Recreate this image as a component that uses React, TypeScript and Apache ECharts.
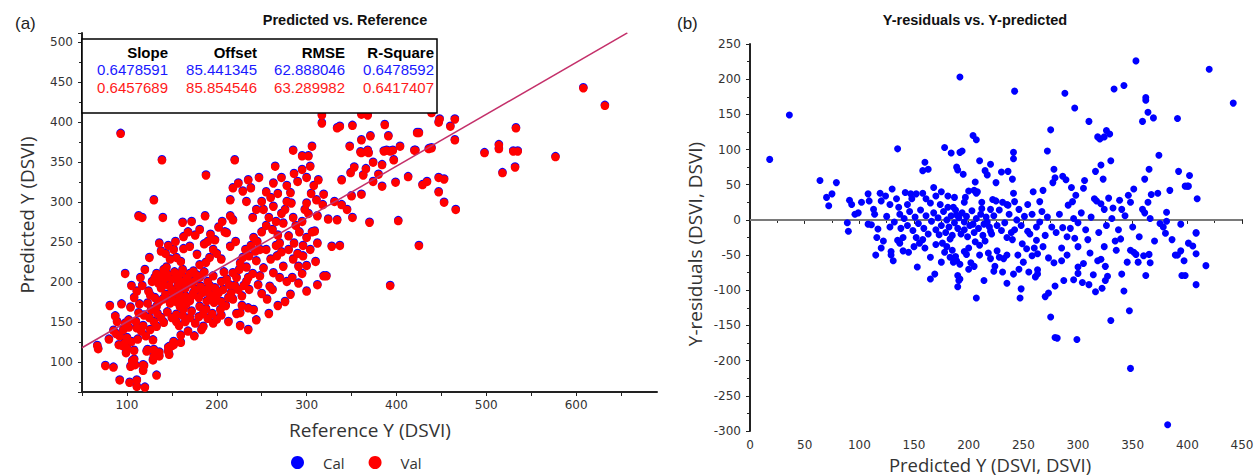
import React, { useEffect, useRef } from 'react';
import * as echarts from 'echarts';

// ---------- data ----------
const statHeaders = ['Slope', 'Offset', 'RMSE', 'R-Square'];
const calStats = ['0.6478591', '85.441345', '62.888046', '0.6478592'];
const valStats = ['0.6457689', '85.854546', '63.289982', '0.6417407'];
const fitSlope = 0.6478591;
const fitOffset = 85.441345;
const fitLineX = [50, 657];

// (a) Reference Y vs Predicted Y  [reference, predicted]
const valPoints: number[][] = [
  [93,385],[317,398],[317,408],[337,394],[351,395],[361,409],[368,408],[387,396],[391,382],[371,382],[361,377],[306,369],[348,369],[404,369],[423,386],[421,364],[285,364],[295,357],[302,357],[334,392],[360,362],[368,364],[389,364],[396,364],[139,352],[220,352],
  [439,411],[448,403],[447,399],[465,403],[460,394],[425,386],[465,377],[420,364],[436,366],[439,367],[498,361],[514,371],[514,366],[530,363],[535,363],[533,392],[577,356],[608,442],[632,420],
  [532,343],[518,336],[466,290],[453,299],[447,312],[453,328],[447,330],[434,325],[429,321],[413,331],[399,324],[384,319],[380,334],[384,346],[374,349],[397,352],[366,341],[363,333],[353,343],[349,336],[350,307],[361,309],[374,325],[402,276],[370,274],[351,280],[334,277],[324,278],[328,244],[337,245],[425,245],[393,195],[319,207],[322,207],[339,296],[345,290],[331,300],[318,296],[319,309],[339,327],[361,361],[369,361],[386,363],[393,363],
  [188,333],[130,302],[113,282],[117,280],[140,280],[162,274],[172,275],[187,282],[136,248],[154,250],[163,241],[163,256],[98,210],[105,195],[81,170],[94,172],[87,157],[124,188],[126,183],[137,207],[141,215],[144,218],[148,228],[150,203],[123,173],[133,169],[113,161],[119,158],[98,148],[102,143],[111,142],[92,132],[88,135],[105,125],[133,144],[141,149],[155,159],[163,166],[165,182],[174,186],[167,198],[190,200],[196,207],[181,169],[188,166],[197,174],[207,190],[205,200],[214,196],[218,211],[226,223],[233,218],[236,232],[244,226],[248,240],[215,244],[211,261],[221,250],[193,259],[181,265],[170,244],[178,234],[181,221],[174,213],[215,302],[218,317],[224,323],[235,327],[238,317],[229,313],[233,300],[215,282],[218,277],[241,255],[252,290],[263,294],[263,323],[265,344],[247,330],[282,311],[283,298],[304,344],[313,327],[300,298],[311,302],[309,263],[274,273],[280,257],[270,248],[280,240],[267,232],[274,219],[291,219],[296,232],[304,240],[278,200],[282,184],[291,198],[263,211],[259,194],[252,217],[248,207],[235,205],[233,200],[218,178],[226,161],[235,167],[241,165],[235,140],[204,165],[196,148],[185,144],[183,140],[168,138],[160,133],[152,125],[148,119],[129,127],[148,173],[152,186],[141,196],[161,200],[181,205],[187,190],[193,182],[159,169],[172,163],
  [67,120],[76,95],[85,93],[92,77],[103,74],[111,77],[120,68],[133,83],[118,96],[119,95],[108,103],[106,101],[99,111],[108,114],[123,115],[130,107],[136,112],[146,113],[146,118],[150,120],[160,124],[97,123],[100,117],[104,94],[109,96],[111,69],[118,89],[122,113],[130,115],[129,102],[136,107],[147,109],[152,121],[175,132],[68,116],[91,121],
  [128,200],[131,205],[133,210],[135,198],[138,192],[142,204],[145,209],[147,195],[150,190],[153,212],[155,205],[157,196],[158,188],[160,210],[162,215],[165,192],[167,205],[170,210],[172,197],[175,201],[176,190],[178,208],[180,180],[182,194],[184,186],[186,212],[189,176],[190,188],[192,195],[195,183],[198,192],[200,178],[202,186],[205,175],[150,178],[155,175],[158,183],[162,178],[166,172],[170,176],[173,183],[140,178],[143,184],[136,175],[131,180],[127,165],[134,160],[138,155],[145,162],[150,155],[155,150],[158,145],[162,158],[165,150],[170,155],[176,148],[180,156],[185,160],[190,154],[195,160],[200,153],[205,158],[210,170],[213,180],[216,186],[220,195],[224,190],[228,182],[230,195],[211,203],[208,212],[222,205],[225,215],[229,230],[232,240],[238,245],[243,238],[205,228],[200,235],[196,240],[192,230],[188,224],[186,247],[190,250],[198,252],[202,268],[206,275],[209,262],[176,258],[168,262],[160,225],[155,230],[152,240],[146,245],[143,235],[138,238],[125,230],[120,215],[115,205],[117,195],[111,188],[108,180],[104,168],[114,172],[110,150],[116,138],[121,132],[126,140],[130,150],[125,155],[118,145],[112,128],[100,130],[96,140],[89,150],[85,139],[80,128],[95,120],[102,152],
  [245,250],[250,262],[255,270],[258,280],[262,265],[266,275],[268,258],[272,285],[276,290],[278,300],[285,280],[288,270],[292,262],[295,275],[298,290],[302,285],[305,310],[308,320],[312,282],[300,330],[295,340],[290,325],[286,335],[278,320],[272,330],[268,310],[260,305],[255,312],[250,300],[244,290],[240,280],[255,240],[260,228],[266,245],[272,237],[286,248],[290,235],[296,245],[300,255],[306,262],[312,248],[250,185],[256,178],[262,190],[270,205],[284,205],[295,210],[300,220],[310,225],[285,228],[246,196],[240,210],[236,190],[228,170],[222,160],[213,150],[226,145],[244,152],[258,160],[268,170],[276,175],[300,188],[312,196]
];

// (b) Y-predicted vs Y-residuals  [predicted, residual]
const residualPoints: number[][] = [
  [18,86],[36,149],[64,56],[70,32],[72,20],[75,37],[79,53],[89,-4],[90,-16],[91,28],[93,22],[96,8],[99,10],[102,25],[108,37],[109,27],[113,15],[114,8],[108,-6],[111,-7],[117,-13],[119,38],[120,27],[135,101],[130,44],[134,30],[136,18],[137,8],[142,39],[147,37],[152,37],[158,38],[160,82],[158,70],[163,72],[168,46],[178,103],[184,95],[189,75],[192,96],[192,203],
  [242,183],[288,180],[297,159],[310,140],[333,186],[342,191],[353,226],[362,174],[362,170],[364,153],[369,145],[359,140],[391,144],[420,214],[442,166],[275,128],[272,98],[278,72],[318,118],[320,115],[324,118],[326,127],[329,122],[330,84],[321,78],[316,69],[323,58],[374,92],[365,72],[361,58],[392,69],[402,63],[400,48],[398,48],[409,30],[384,42],[381,11],[394,-6],[408,-19],[204,120],[207,114],[194,98],[241,96],[241,87],[220,79],[210,84],[190,71],[195,65],[215,70],[217,64],[230,68],[236,69],[240,58],[225,53],[206,54],[205,42],[207,38],[279,60],[286,62],[289,57],[294,46],[306,56],[305,45],[298,35],[295,26],[291,21],[277,53],[259,40],[268,42],[265,26],[254,22],[241,38],[242,26],[236,21],[235,22],[231,25],[225,27],[222,29],[220,15],[212,25],[212,16],[208,40],[200,41],[197,32],[196,25],[187,32],[181,34],[181,18],[186,18],[189,7],[315,30],[317,27],[321,23],[324,15],[328,31],[332,17],[338,28],[340,15],[346,35],[351,44],[348,25],[359,15],[361,10],[364,25],[367,36],[373,38],[366,2],[375,-5],[381,-2],[378,-10],[401,48],[300,-4],[296,2],[293,-12],[286,-11],[276,-10],[265,-3],[254,-16],[242,-14],[220,-16],[217,-3],[204,-6],[196,-3],
  [382,-291],[348,-211],[330,-143],[347,-129],[279,-167],[281,-168],[299,-170],[275,-138],[270,-109],[273,-104],[207,-111],[247,-111],[248,-98],[191,-86],[408,-92],[417,-65],[408,-48],[395,-79],[398,-79],[397,-58],[394,-44],[391,-50],[389,-50],[401,-33],[405,-37],[408,-18],[380,-19],[366,-61],[362,-79],[365,-49],[360,-51],[355,-60],[353,-49],[351,-46],[348,-43],[345,-60],[340,-77],[342,-101],[335,-43],[339,-27],[334,-30],[325,-66],[327,-80],[325,-86],[322,-97],[316,-102],[310,-92],[314,-78],[304,-89],[305,-62],[300,-67],[300,-76],[296,-85],[287,-86],[285,-58],[279,-94],[278,-61],[273,-54],[300,-38],[297,-26],[309,-28],[311,-47],[318,-58],[321,-56],[324,-38],[262,-29],[260,-40],[263,-48],[258,-51],[263,-71],[263,-77],[261,-81],[255,-74],[253,-41],[249,-34],[240,-28],[235,-25],[241,-77],[246,-70],[235,-50],[232,-55],[228,-53],[226,-44],[224,-66],[223,-73],[231,-74],[218,-47],[220,-55],[210,-36],[206,-31],[202,-61],[205,-66],[198,-49],[196,-45],[192,-63],[189,-58],[188,-52],[185,-43],[183,-27],
  [116,-25],[122,-30],[115,-50],[129,-45],[129,-50],[135,-29],[137,-33],[140,-25],[145,-46],[153,-67],[152,-25],[155,-33],[158,-28],[165,-53],[169,-77],[165,-84],[173,-21],[176,-33],[178,-46],[183,-53],[186,-60],[190,-79],[192,-84],
  [125,5],[128,-10],[132,-3],[138,-12],[141,2],[144,-8],[146,12],[149,-15],[151,4],[154,-5],[156,14],[159,-12],[161,6],[163,-20],[166,-2],[168,10],[170,-14],[172,3],[174,22],[175,-8],[177,12],[179,-18],[180,0],[182,-10],[184,6],[185,-22],[187,-4],[188,14],[190,-12],[191,3],[193,-20],[194,10],[196,-14],[198,5],[199,-24],[201,-8],[203,13],[205,-18],[207,2],[209,-12],[211,8],[213,-22],[214,-6],[216,4],[219,-10],[221,-20],[223,6],[226,-8],[228,14],[230,-15],[233,-4],[237,8],[239,-18],[244,0],[246,15],[248,-8],[251,5],[256,-20],[258,8],[262,-10],[267,12],[270,-22],[272,4],[280,-18],[283,8],[290,-24],[303,10],[307,-14],[312,4],[319,-18],[326,-8],[331,2],[337,-14],[343,6],[350,-10],[356,-24],[370,-30],[386,-28],[161,30],[165,24],[170,34],[175,40],[148,30],[144,22],[128,22],[124,34],[170,-35],[160,-40],[150,-38],[200,-40],[210,-50],[180,-38],[215,-30],[245,-50],[250,-60],[268,-38],[285,-40],[290,-50],[140,-44],[131,-58],[120,-40],[175,-60],[200,-70],[214,-86],[235,-90],[190,-95]
];

const tickFont = { fontFamily: 'DejaVu Sans', fontSize: 12, color: '#333' };
const axisLineStyle = { color: '#222', width: 2 };

export default function App() {
  const ref = useRef<HTMLDivElement>(null);
  useEffect(() => {
    document.body.style.margin = '0';
    if (!ref.current) return;
    const chart = echarts.init(ref.current, null, { renderer: 'svg' });
    const fitLine = fitLineX.map((x) => [x, fitSlope * x + fitOffset]);
    const colRight = [168, 257, 345, 434];
    const tableTexts: any[] = [];
    statHeaders.forEach((h, i) => {
      tableTexts.push({ type: 'text', z: 20, x: colRight[i], y: 52, style: { text: h, fontFamily: 'Liberation Sans', fontWeight: 'bold', fontSize: 15, fill: '#000', align: 'right', verticalAlign: 'middle' } });
      tableTexts.push({ type: 'text', z: 20, x: colRight[i], y: 69, style: { text: calStats[i], fontFamily: 'Liberation Sans', fontSize: 15, fill: '#1a1aff', align: 'right', verticalAlign: 'middle' } });
      tableTexts.push({ type: 'text', z: 20, x: colRight[i], y: 87, style: { text: valStats[i], fontFamily: 'Liberation Sans', fontSize: 15, fill: '#ff1a1a', align: 'right', verticalAlign: 'middle' } });
    });
    const nameFont = { fontFamily: 'Open Sans', fill: '#333' };
    chart.setOption({
      animation: false,
      grid: [
        { left: 82, top: 33, width: 575, height: 359 },
        { left: 750, top: 44, width: 492, height: 387 },
      ],
      xAxis: [
        {
          gridIndex: 0, type: 'value', min: 50, max: 690, interval: 50,
          axisLine: { lineStyle: axisLineStyle }, axisTick: { length: 4, lineStyle: { color: '#222' } },
          axisLabel: { ...tickFont, margin: 7, showMaxLabel: false, formatter: (v: number) => (v % 100 === 0 ? String(v) : '') },
          splitLine: { show: false },
        },
        {
          gridIndex: 1, type: 'value', min: 0, max: 450, interval: 50,
          axisLine: { lineStyle: axisLineStyle }, axisTick: { length: 4, lineStyle: { color: '#222' } },
          minorTick: { show: true, splitNumber: 2, length: 3, lineStyle: { color: '#222' } },
          axisLabel: { ...tickFont, margin: 8 },
          splitLine: { show: false },
        },
      ],
      yAxis: [
        {
          gridIndex: 0, type: 'value', min: 62.5, max: 511, splitNumber: 9,
          axisLine: { show: true, lineStyle: axisLineStyle }, axisTick: { show: true, length: 4, lineStyle: { color: '#222' } },
          minorTick: { show: true, splitNumber: 2, length: 3, lineStyle: { color: '#222' } },
          axisLabel: { ...tickFont, margin: 9, formatter: (v: number) => (Math.abs(v % 50) < 1e-6 ? String(v) : '') },
          splitLine: { show: false },
        },
        {
          gridIndex: 1, type: 'value', min: -300, max: 250, interval: 50,
          axisLine: { show: true, lineStyle: axisLineStyle }, axisTick: { show: true, length: 4, lineStyle: { color: '#222' } },
          minorTick: { show: true, splitNumber: 2, length: 3, lineStyle: { color: '#222' } },
          axisLabel: { ...tickFont, margin: 9 },
          splitLine: { show: false },
        },
      ],
      legend: {
        data: ['Cal', 'Val'], left: 286, top: 450, icon: 'circle', itemWidth: 13, itemHeight: 13, itemGap: 24,
        textStyle: { fontFamily: 'Open Sans', fontSize: 15, color: '#333', padding: [0, 0, 0, 14] },
      },
      series: [
        { name: 'Cal', type: 'scatter', xAxisIndex: 0, yAxisIndex: 0, data: valPoints, symbolSize: 8.5, symbolOffset: [0, -1], itemStyle: { color: '#0000ff', opacity: 1 }, z: 2 },
        { name: 'Val', type: 'scatter', xAxisIndex: 0, yAxisIndex: 0, data: valPoints, symbolSize: 8.5, itemStyle: { color: '#ff0000', opacity: 1 }, z: 3 },
        { name: 'fit', type: 'line', xAxisIndex: 0, yAxisIndex: 0, data: fitLine, symbol: 'none', lineStyle: { color: '#c4306a', width: 1.6 }, z: 4 },
        { name: 'res', type: 'scatter', xAxisIndex: 1, yAxisIndex: 1, data: residualPoints, symbolSize: 7, itemStyle: { color: '#0000ff', opacity: 1 }, z: 3 },
        { name: 'zero', type: 'line', xAxisIndex: 1, yAxisIndex: 1, data: [[0, 0], [450, 0]], symbol: 'none', lineStyle: { color: '#999', width: 1.5 }, z: 2 },
      ],
      graphic: [
        { type: 'text', x: 15, y: 23, style: { text: '(a)', fontFamily: 'Liberation Sans', fontSize: 17, fill: '#222', align: 'left', verticalAlign: 'middle' } },
        { type: 'text', x: 677, y: 23, style: { text: '(b)', fontFamily: 'Liberation Sans', fontSize: 17, fill: '#222', align: 'left', verticalAlign: 'middle' } },
        { type: 'text', x: 345, y: 20, style: { text: 'Predicted vs. Reference', fontFamily: 'Liberation Sans', fontWeight: 'bold', fontSize: 14.5, fill: '#111', align: 'center', verticalAlign: 'middle' } },
        { type: 'text', x: 975, y: 20, style: { text: 'Y-residuals vs. Y-predicted', fontFamily: 'Liberation Sans', fontWeight: 'bold', fontSize: 14.5, fill: '#111', align: 'center', verticalAlign: 'middle' } },
        { type: 'text', x: 27, y: 215, rotation: Math.PI / 2, style: { ...nameFont, text: 'Predicted Y (DSVI)', fontSize: 19, align: 'center', verticalAlign: 'middle' } },
        { type: 'text', x: 370, y: 430, style: { ...nameFont, text: 'Reference Y (DSVI)', fontSize: 19, align: 'center', verticalAlign: 'middle' } },
        { type: 'text', x: 695, y: 244, rotation: Math.PI / 2, style: { ...nameFont, text: 'Y-residuals (DSVI, DSVI)', fontSize: 19, align: 'center', verticalAlign: 'middle' } },
        { type: 'text', x: 990, y: 464, style: { ...nameFont, text: 'Predicted Y (DSVI, DSVI)', fontSize: 18.5, align: 'center', verticalAlign: 'middle' } },
        { type: 'rect', z: 19, shape: { x: 82, y: 39, width: 355, height: 74 }, style: { fill: '#fff', stroke: '#000', lineWidth: 1.5 } },
        ...tableTexts,
      ],
    });
    return () => chart.dispose();
  }, []);
  return <div ref={ref} style={{ width: 1259, height: 475 }} />;
}
